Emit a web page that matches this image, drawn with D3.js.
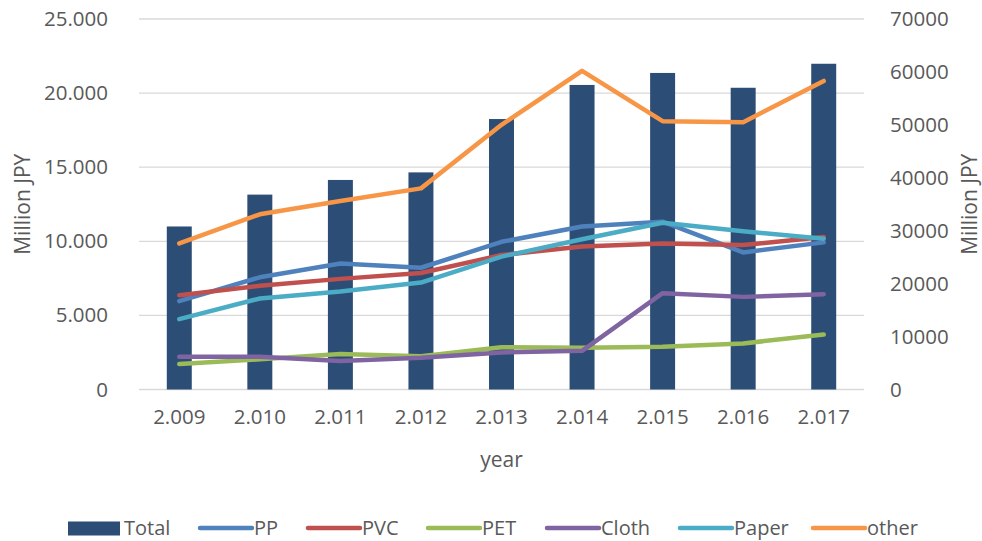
<!DOCTYPE html>
<html>
<head>
<meta charset="utf-8">
<script src="https://cdn.jsdelivr.net/npm/d3@7"></script>
<style>
  body { margin: 0; background: #fff; }
  text { font-family: "Open Sans", sans-serif; fill: #595959; }
</style>
</head>
<body>
<div id="wrapper"></div>
<script>
// values
const years = ["2.009", "2.010", "2.011", "2.012", "2.013", "2.014", "2.015", "2.016", "2.017"];
const total = [11000, 13150, 14140, 14650, 18250, 20550, 21360, 20360, 21980];
const pp = [16700, 21200, 23800, 23000, 27900, 30800, 31700, 25900, 27800];
const pvc = [17800, 19600, 20900, 22000, 25400, 27000, 27600, 27300, 28800];
const pet = [4800, 5700, 6700, 6300, 8000, 7900, 8100, 8700, 10400];
const cloth = [6200, 6200, 5400, 6000, 7000, 7300, 18200, 17500, 18000];
const paper = [13300, 17200, 18500, 20200, 25100, 28400, 31500, 29900, 28500];
const other = [27600, 33100, 35600, 38000, 50000, 60200, 50700, 50500, 58300];
const leftTicks = [0, 5000, 10000, 15000, 20000, 25000];
const rightTicks = [0, 10000, 20000, 30000, 40000, 50000, 60000, 70000];

const lineSeries = [
    { name: "PP", values: pp, color: "#4F81BD" },
    { name: "PVC", values: pvc, color: "#C0504D" },
    { name: "PET", values: pet, color: "#9BBB59" },
    { name: "Cloth", values: cloth, color: "#8064A2" },
    { name: "Paper", values: paper, color: "#4BACC6" },
    { name: "other", values: other, color: "#F79646" }
];
const barColor = "#2C4D75";

let dimension = {
    width: 982,
    height: 541,
    margin: { top: 19, left: 139, bottom: 151.5, right: 118 }
}
dimension.boundedWidth = dimension.width - dimension.margin.left - dimension.margin.right;
dimension.boundedHeight = dimension.height - dimension.margin.top - dimension.margin.bottom;

function buildPlot() {
    const svg = d3.select("#wrapper").append("svg")
        .attr("width", dimension.width)
        .attr("height", dimension.height);

    const bounds = svg.append("g")
        .attr("transform", `translate(${dimension.margin.left},${dimension.margin.top})`);

    const xScale = d3.scaleBand()
        .domain(years)
        .range([0, dimension.boundedWidth])
        .paddingInner(0.69)
        .paddingOuter(0.345);

    const yLeft = d3.scaleLinear()
        .domain([0, 25000])
        .range([dimension.boundedHeight, 0]);

    const yRight = d3.scaleLinear()
        .domain([0, 70000])
        .range([dimension.boundedHeight, 0]);

    // gridlines
    bounds.append("g")
        .selectAll("line")
        .data(leftTicks)
        .enter()
        .append("line")
        .attr("x1", 0)
        .attr("x2", dimension.boundedWidth)
        .attr("y1", d => yLeft(d))
        .attr("y2", d => yLeft(d))
        .attr("stroke", "#D9D9D9")
        .attr("stroke-width", 1.3);

    // left axis
    const fmtLeft = d => d === 0 ? "0" : d3.format(",")(d).replace(/,/g, ".");
    const leftAxis = bounds.append("g")
        .attr("transform", "translate(-28,0)")
        .call(d3.axisLeft(yLeft).tickValues(leftTicks).tickFormat(fmtLeft).tickSize(0));
    leftAxis.select(".domain").remove();
    leftAxis.selectAll("text").style("font-size", "20.5px").attr("fill", "#595959");

    // right axis
    const rightAxis = bounds.append("g")
        .attr("transform", `translate(${dimension.boundedWidth + 23},0)`)
        .call(d3.axisRight(yRight).tickValues(rightTicks).tickFormat(d3.format("d")).tickSize(0));
    rightAxis.select(".domain").remove();
    rightAxis.selectAll("text").style("font-size", "20.5px").attr("fill", "#595959");

    // x axis labels
    const xAxis = bounds.append("g")
        .attr("transform", `translate(0,${dimension.boundedHeight + 17})`)
        .call(d3.axisBottom(xScale).tickSize(0));
    xAxis.select(".domain").remove();
    xAxis.selectAll("text").style("font-size", "20.5px").attr("fill", "#595959");

    // bars
    bounds.selectAll("rect.bar")
        .data(total)
        .enter()
        .append("rect")
        .attr("class", "bar")
        .attr("x", (d, i) => xScale(years[i]))
        .attr("y", d => yLeft(d))
        .attr("width", xScale.bandwidth())
        .attr("height", d => dimension.boundedHeight - yLeft(d))
        .attr("fill", barColor);

    // lines
    const lineGen = d3.line()
        .x((d, i) => xScale(years[i]) + xScale.bandwidth() / 2)
        .y(d => yRight(d));

    bounds.selectAll("path.series")
        .data(lineSeries)
        .enter()
        .append("path")
        .attr("class", "series")
        .attr("d", d => lineGen(d.values))
        .attr("fill", "none")
        .attr("stroke", d => d.color)
        .attr("stroke-width", 4.5)
        .attr("stroke-linecap", "round")
        .attr("stroke-linejoin", "round");

    // axis titles
    svg.append("text")
        .attr("transform", `translate(22,${dimension.margin.top + dimension.boundedHeight / 2}) rotate(-90)`)
        .attr("text-anchor", "middle")
        .attr("dominant-baseline", "central")
        .style("font-size", "21px")
        .text("Million JPY");

    svg.append("text")
        .attr("transform", `translate(969,${dimension.margin.top + dimension.boundedHeight / 2}) rotate(-90)`)
        .attr("text-anchor", "middle")
        .attr("dominant-baseline", "central")
        .style("font-size", "21px")
        .text("Million JPY");

    svg.append("text")
        .attr("x", dimension.margin.left + dimension.boundedWidth / 2)
        .attr("y", 467)
        .attr("text-anchor", "middle")
        .style("font-size", "21px")
        .text("year");

    // legend
    const legendItems = [{ name: "Total", color: barColor, bar: true }].concat(lineSeries);
    const legendX = [68, 198, 306, 426, 545, 678, 811];
    const legend = svg.append("g");
    legendItems.forEach((item, i) => {
        const g = legend.append("g").attr("transform", `translate(${legendX[i]},528)`);
        if (item.bar) {
            g.append("rect")
                .attr("x", 0).attr("y", -6.5)
                .attr("width", 52).attr("height", 14)
                .attr("fill", item.color);
        } else {
            g.append("line")
                .attr("x1", 2).attr("x2", 54)
                .attr("y1", 0).attr("y2", 0)
                .attr("stroke", item.color)
                .attr("stroke-width", 4.5)
                .attr("stroke-linecap", "round");
        }
        g.append("text")
            .attr("x", 56)
            .attr("y", 7)
            .style("font-size", "20px")
            .text(item.name);
    });
}

buildPlot()
</script>
</body>
</html>
